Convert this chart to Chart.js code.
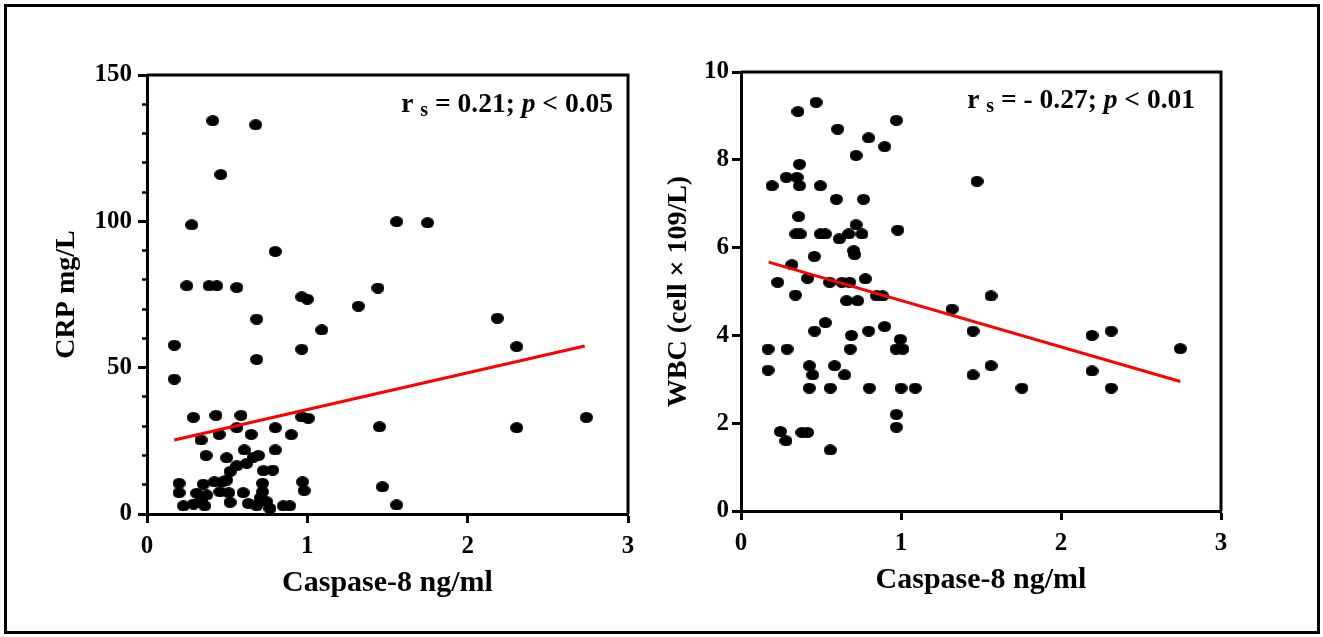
<!DOCTYPE html>
<html>
<head>
<meta charset="utf-8">
<title>Caspase-8 vs CRP / WBC</title>
<script src="https://cdn.jsdelivr.net/npm/chart.js@4.4.1/dist/chart.umd.min.js"></script>
<style>
  body { margin: 0; background: #fff; }
  #frame { position: absolute; left: 4px; top: 4px; width: 1310px; height: 624px; border: 3px solid #000; }
  .box { position: absolute; top: 0; height: 637px; }
  #leftBox { left: 0; width: 660px; }
  #rightBox { left: 660px; width: 663px; }
</style>
</head>
<body>
<div id="frame"></div>
<div class="box" id="leftBox"><canvas id="crpChart"></canvas></div>
<div class="box" id="rightBox"><canvas id="wbcChart"></canvas></div>

<script>
// values
const caspaseCrp = [0.41, 0.678, 0.46, 0.279, 0.80, 0.248, 0.387, 0.435, 0.56, 0.965, 1.0, 1.44,
  1.557, 1.75, 2.185, 2.306, 2.306, 2.74, 1.468, 1.557,
  1.318, 0.684, 1.09, 0.17, 0.965, 0.684, 0.17, 0.289, 0.43, 0.586, 0.965, 1.006, 1.45,
  0.56, 0.45, 0.65, 0.80, 0.90, 0.337, 0.607, 0.80, 0.368, 0.497, 0.695, 0.663, 0.622,
  0.56, 0.518, 0.726, 0.784, 0.497, 0.42, 0.351, 0.2, 0.2, 0.31, 0.372, 0.455, 0.51,
  0.6, 0.72, 0.72, 0.97, 0.98, 0.227, 0.29, 0.36, 0.518, 0.632, 0.684, 0.747, 0.767,
  0.85, 0.89, 0.34, 0.472, 0.705];
const crpValues = [134.4, 133, 116, 98.8, 89.7, 78, 78, 78, 77.4, 74.2, 73.4, 77.2,
  99.9, 99.5, 66.9, 57.2, 29.5, 33, 9.3, 3.1,
  71, 66.6, 62.9, 57.7, 56.3, 52.8, 46.1, 33, 33.7, 33.7, 33.2, 32.7, 29.8,
  29.5, 27.2, 27.2, 29.5, 27.1, 25.3, 21.9, 21.9, 20, 19.2, 20, 19.4, 17.3,
  16.5, 14.5, 14.8, 15, 11.6, 11, 10.2, 10.5, 7.3, 7.1, 6.5, 7.6, 7.3,
  7.3, 10.5, 7.6, 11, 8, 2.8, 3.4, 2.8, 4, 3.6, 2.8, 4.2, 1.9,
  2.8, 2.8, 4.8, 11, 5.4];
const crpFitX = [0.17, 2.73];
const crpFitY = [25.3, 57.4];

const caspaseWbc = [0.356, 0.469, 0.971, 0.604, 0.798, 0.898, 0.719, 0.366, 0.283, 0.35,
  0.194, 0.366, 0.496, 0.596, 0.766, 0.36, 0.343, 0.37, 0.496, 0.527, 0.614, 0.673,
  0.719, 0.756, 0.98, 0.704, 0.71, 0.458, 0.318, 0.229, 0.416, 0.554, 0.631, 0.679,
  0.777, 0.34, 0.66, 0.729, 0.848, 0.885, 0.527, 0.46, 0.69, 0.798, 0.898, 0.996,
  0.169, 0.288, 0.683, 0.969, 1.012, 0.427, 0.448, 0.585, 0.648, 0.169, 0.427, 0.558,
  0.802, 1.0, 1.089, 0.971, 0.971, 0.246, 0.281, 0.381, 0.416, 0.558,
  1.475, 1.5625, 1.319, 1.45, 2.194, 2.314, 2.746, 1.45, 1.5625, 2.194, 1.756, 2.314];
const wbcValues = [9.1, 9.31, 8.9, 8.7, 8.5, 8.3, 8.1, 7.9, 7.6, 7.6,
  7.41, 7.41, 7.41, 7.1, 7.1, 6.71, 6.31, 6.31, 6.31, 6.31, 6.2, 6.31,
  6.52, 6.31, 6.4, 5.93, 5.84, 5.8, 5.61, 5.21, 5.3, 5.21, 5.21, 5.21,
  5.29, 4.92, 4.79, 4.79, 4.9, 4.9, 4.29, 4.1, 4.0, 4.1, 4.2, 3.91,
  3.69, 3.69, 3.69, 3.69, 3.69, 3.31, 3.1, 3.31, 3.1, 3.21, 2.8, 2.8,
  2.8, 2.8, 2.8, 2.2, 1.91, 1.81, 1.6, 1.79, 1.79, 1.39,
  7.51, 4.9, 4.6, 4.1, 4.0, 4.1, 3.7, 3.1, 3.31, 3.19, 2.8, 2.8];
const wbcFitX = [0.173, 2.746];
const wbcFitY = [5.67, 2.95];

const serif = "'Liberation Serif', 'Times New Roman', serif";
const tickFont = { family: serif, size: 25, weight: 'bold' };
const xTitleFont = { family: serif, size: 30, weight: 'bold' };
const yTitleFont = { family: serif, size: 28, weight: 'bold' };

// slightly flattened dot, like the original
const dot = document.createElement('canvas');
dot.width = 13; dot.height = 11;
const dctx = dot.getContext('2d');
dctx.fillStyle = '#000';
dctx.beginPath();
dctx.ellipse(6.5, 5.5, 6.5, 5.5, 0, 0, Math.PI * 2);
dctx.fill();

function toPoints(xs, ys) {
  return xs.map((x, i) => ({ x: x, y: ys[i] }));
}

// top + right edges of the plot box, and the r_s / p annotation
const boxAndStat = {
  id: 'boxAndStat',
  afterDraw(chart, args, opts) {
    const { ctx, chartArea: a } = chart;
    ctx.save();
    ctx.strokeStyle = '#000';
    ctx.lineWidth = 3;
    ctx.beginPath();
    ctx.moveTo(a.left, a.top);
    ctx.lineTo(a.right, a.top);
    ctx.lineTo(a.right, a.bottom);
    ctx.stroke();

    const big = 'bold 27.5px ' + serif;
    const parts = [
      { t: 'r', f: big, dy: 0 },
      { t: ' ', f: big, dy: 0 },
      { t: 's', f: 'bold 20px ' + serif, dy: 4 },
      { t: ' = ' + opts.r + '; ', f: big, dy: 0 },
      { t: 'p', f: 'italic ' + big, dy: 0 },
      { t: ' < ' + opts.p, f: big, dy: 0 }
    ];
    let total = 0;
    parts.forEach(p => { ctx.font = p.f; p.w = ctx.measureText(p.t).width; total += p.w; });
    let x = a.right - opts.right - total;
    const base = a.top + opts.base;
    ctx.fillStyle = '#000';
    ctx.textBaseline = 'alphabetic';
    ctx.textAlign = 'left';
    parts.forEach(p => {
      ctx.font = p.f;
      ctx.fillText(p.t, x, base + p.dy);
      x += p.w;
    });
    ctx.restore();
  }
};

function makeChart(id, cfg) {
  return new Chart(document.getElementById(id), {
    type: 'scatter',
    data: {
      datasets: [
        {
          data: toPoints(cfg.fitX, cfg.fitY),
          showLine: true,
          borderColor: '#ff0000',
          borderWidth: 3,
          pointRadius: 0,
          order: 0
        },
        {
          data: toPoints(cfg.xs, cfg.ys),
          pointStyle: dot,
          pointRadius: 6,
          backgroundColor: '#000',
          borderColor: '#000',
          order: 1
        }
      ]
    },
    options: {
      responsive: true,
      maintainAspectRatio: false,
      animation: false,
      events: [],
      layout: { padding: { left: 0, top: cfg.padTop, right: cfg.padRight, bottom: 0 } },
      plugins: {
        legend: { display: false },
        tooltip: { enabled: false },
        boxAndStat: cfg.stat
      },
      scales: cfg.scales
    },
    plugins: [boxAndStat]
  });
}

function xScale(height, titlePad) {
  return {
    type: 'linear', position: 'bottom', min: 0, max: 3,
    ticks: { stepSize: 1, font: tickFont, color: '#000', padding: 9 },
    grid: { drawOnChartArea: false, tickLength: 9, tickWidth: 3, tickColor: '#000' },
    border: { color: '#000', width: 3 },
    title: { display: true, text: 'Caspase-8 ng/ml', font: xTitleFont, color: '#000',
      padding: { top: 0, bottom: titlePad } },
    afterFit: s => { s.height = height; }
  };
}

makeChart('crpChart', {
  xs: caspaseCrp, ys: crpValues, fitX: crpFitX, fitY: crpFitY,
  padTop: 75, padRight: 32,
  stat: { r: '0.21', p: '0.05', right: 15, base: 37 },
  scales: {
    x: xScale(123, 36),
    y: {
      type: 'linear', position: 'left', min: 0, max: 150, weight: 1,
      ticks: { stepSize: 50, font: tickFont, color: '#000', padding: 6 },
      grid: { drawOnChartArea: false, tickLength: 9, tickWidth: 3, tickColor: '#000' },
      border: { color: '#000', width: 3 },
      title: { display: true, text: 'CRP mg/L', font: yTitleFont, color: '#000',
        padding: { top: 50, bottom: 0 } },
      afterFit: s => { s.width = 147; }
    },
    yMinor: {
      type: 'linear', position: 'left', min: 0, max: 150, weight: 0,
      ticks: { stepSize: 5, callback: () => '' },
      grid: { drawOnChartArea: false, tickLength: 5, tickWidth: 2.5, tickColor: '#000' },
      border: { display: false },
      afterFit: s => { s.width = 0; }
    }
  }
});

makeChart('wbcChart', {
  xs: caspaseWbc, ys: wbcValues, fitX: wbcFitX, fitY: wbcFitY,
  padTop: 72, padRight: 102,
  stat: { r: '- 0.27', p: '0.01', right: 26, base: 36 },
  scales: {
    x: xScale(126, 39),
    y: {
      type: 'linear', position: 'left', min: 0, max: 10,
      ticks: { stepSize: 2, font: tickFont, color: '#000', padding: 3 },
      grid: { drawOnChartArea: false, tickLength: 9, tickWidth: 3, tickColor: '#000' },
      border: { color: '#000', width: 3 },
      title: { display: true, text: 'WBC (cell × 109/L)', font: yTitleFont, color: '#000',
        padding: { top: 2, bottom: 0 } },
      afterFit: s => { s.width = 81; }
    }
  }
});
</script>
</body>
</html>
